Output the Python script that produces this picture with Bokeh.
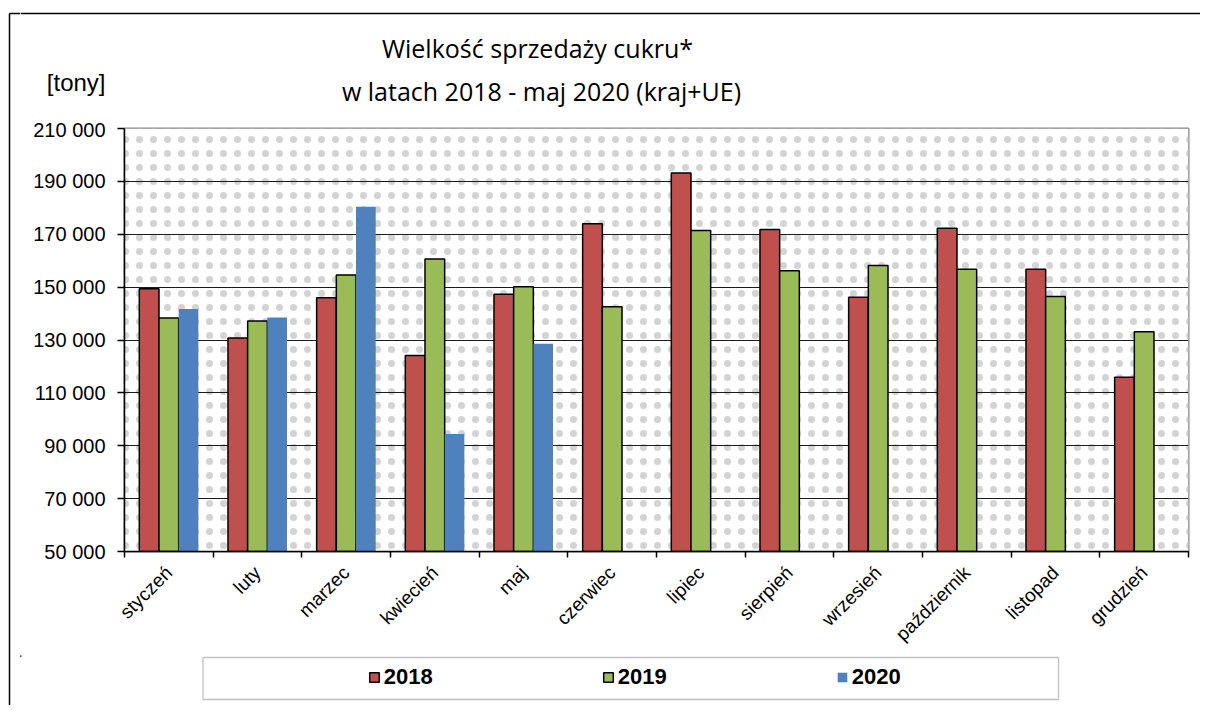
from bokeh.plotting import figure
from bokeh.layouts import row, column
from bokeh.models import Range1d, FixedTicker, Label, BoxAnnotation, Legend, LegendItem, Span
from bokeh.embed import file_html
from bokeh.resources import INLINE
import numpy as np

months = ["styczeń", "luty", "marzec", "kwiecień", "maj", "czerwiec", "lipiec",
          "sierpień", "wrzesień", "październik", "listopad", "grudzień"]
s2018 = [149400, 130800, 146000, 124100, 147300, 174000, 193200, 171800, 146200, 172300, 156800, 115900]
s2019 = [138300, 137200, 154600, 160600, 150100, 142600, 171400, 156200, 158200, 156800, 146500, 133100]
s2020 = [141700, 138500, 180400, 94400, 128600]
years = ["2018", "2019", "2020"]
colors = ["#C0504D", "#9BBB59", "#4F81BD"]
y_ticks = [50000, 70000, 90000, 110000, 130000, 150000, 170000, 190000, 210000]
y_tick_labels = ["50 000", "70 000", "90 000", "110 000", "130 000", "150 000", "170 000", "190 000", "210 000"]
title_lines = ["Wielkość sprzedaży cukru*", "w latach 2018 - maj 2020 (kraj+UE)"]
unit_label = "[tony]"

TOTAL_W, TOTAL_H = 1200, 705
STRIP_W = 20
COL_W = TOTAL_W - STRIP_W
TOP_H, MAIN_H = 118, 537
BOT_H = TOTAL_H - TOP_H - MAIN_H


def blank_fig(w, h):
    f = figure(width=w, height=h, output_backend="svg", toolbar_location=None, title=None,
               x_range=Range1d(0, w), y_range=Range1d(h, 0), frame_align=False,
               x_axis_type=None, y_axis_type=None, min_border=0)
    f.xgrid.visible = False
    f.ygrid.visible = False
    f.outline_line_color = None
    f.background_fill_color = "white"
    f.border_fill_color = "white"
    return f


# ---------- left strip with the outer border line ----------
strip = blank_fig(STRIP_W, TOTAL_H)
strip.segment(x0=[9], y0=[13], x1=[9], y1=[TOTAL_H], line_color="black", line_width=1.5)
strip.segment(x0=[9], y0=[13], x1=[STRIP_W], y1=[13], line_color="black", line_width=1.5)

# ---------- title area ----------
top = blank_fig(COL_W, TOP_H)
top.add_layout(Span(location=13, dimension="width", line_color="black", line_width=1.5))
top.add_layout(Label(x=517, y=47, text=title_lines[0], text_align="center", text_baseline="middle",
                     text_font="Open Sans", text_font_size="25px", text_color="black"))
top.add_layout(Label(x=521, y=90, text=title_lines[1], text_align="center", text_baseline="middle",
                     text_font="Open Sans", text_font_size="25px", text_color="black"))
top.add_layout(Label(x=85, y=82, text=unit_label, text_align="right", text_baseline="middle",
                     text_font="Liberation Sans", text_font_size="24px", text_color="black"))

# ---------- main chart ----------
p = figure(width=COL_W, height=MAIN_H, output_backend="svg", toolbar_location=None, title=None,
           x_range=Range1d(0, len(months)), y_range=Range1d(y_ticks[0], y_ticks[-1]),
           frame_align=False,
           min_border_left=104, min_border_right=12, min_border_top=10, min_border_bottom=104)
p.background_fill_color = "white"
p.border_fill_color = "white"
p.outline_line_color = "#858585"
p.outline_line_width = 2

bg = BoxAnnotation(fill_color="white", fill_alpha=1, line_color=None, hatch_pattern="dot",
                   hatch_color="#d3d3d3", hatch_scale=14, hatch_weight=0.8, level="image")
p.add_layout(bg)

centers = np.arange(len(months)) + 0.5
bw = 0.222
series = [s2018, s2019, s2020]
offsets = [-bw, 0.0, bw]
for vals, col, off, yr in zip(series, colors, offsets, years):
    xs = centers[:len(vals)] + off
    lc = None if yr == "2020" else "black"
    p.vbar(x=xs, top=vals, bottom=y_ticks[0], width=bw, fill_color=col, line_color=lc, line_width=1.5)

xa = p.xaxis[0]
xa.ticker = FixedTicker(ticks=list(centers), minor_ticks=list(range(len(months) + 1)))
xa.major_label_overrides = {float(c): m for c, m in zip(centers, months)}
xa.major_tick_out = 0
xa.major_tick_in = 0
xa.minor_tick_out = 6
xa.minor_tick_in = 0
xa.minor_tick_line_color = "black"
xa.minor_tick_line_width = 1.5
xa.axis_line_color = "black"
xa.axis_line_width = 1.5
xa.major_label_orientation = np.pi / 4
xa.major_label_standoff = 12
xa.major_label_text_font = "Liberation Sans"
xa.major_label_text_font_size = "19px"
xa.major_label_text_color = "black"

ya = p.yaxis[0]
ya.ticker = FixedTicker(ticks=y_ticks, minor_ticks=[])
ya.major_label_overrides = {t: l for t, l in zip(y_ticks, y_tick_labels)}
ya.major_tick_out = 7
ya.major_tick_in = 0
ya.major_tick_line_color = "black"
ya.major_tick_line_width = 1.5
ya.minor_tick_line_color = None
ya.axis_line_color = "black"
ya.axis_line_width = 1.5
ya.major_label_standoff = 12
ya.major_label_text_font = "Liberation Sans"
ya.major_label_text_font_size = "20px"
ya.major_label_text_color = "black"

p.xgrid.visible = False
p.ygrid.ticker = FixedTicker(ticks=y_ticks)
p.ygrid.grid_line_color = "#1a1a1a"
p.ygrid.grid_line_width = 1.2

# ---------- legend area ----------
bot = blank_fig(COL_W, BOT_H)
bot.add_layout(BoxAnnotation(left=182.5, right=1038, top=2, bottom=44, fill_color="white",
                             fill_alpha=1, line_color="#333333", line_width=1.3))
leg_renderers = []
for col, yr in zip(colors, years):
    lc = None if yr == "2020" else "black"
    # off-screen helper glyph, only used to draw the legend swatch
    leg_renderers.append(bot.vbar(x=[-1000], top=[0], bottom=[1], width=1, fill_color=col,
                                  line_color=lc, line_width=1.5))
legend = Legend(items=[LegendItem(label=y, renderers=[r]) for y, r in zip(years, leg_renderers)],
                orientation="horizontal", location=(347.7, BOT_H - 22.5 - 12), padding=0, margin=0,
                spacing=166, glyph_width=12, glyph_height=12, label_standoff=4, label_width=52,
                label_height=24, border_line_color=None, background_fill_alpha=0,
                label_text_font="Liberation Sans", label_text_font_style="bold",
                label_text_font_size="22px", label_text_color="black")
bot.add_layout(legend)

layout = row(strip, column(top, p, bot, spacing=0), spacing=0)
open("out.html", "w").write(file_html(layout, INLINE))
